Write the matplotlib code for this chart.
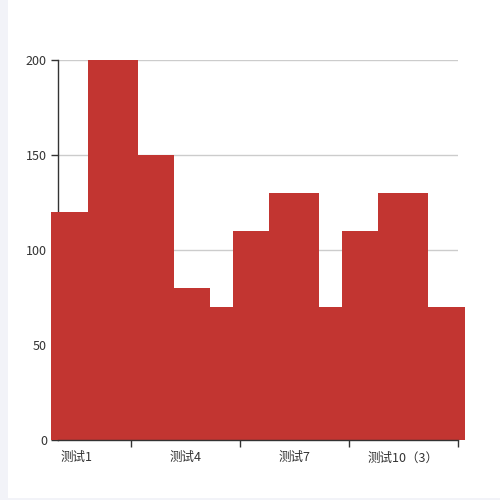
import matplotlib
matplotlib.use("Agg")
import matplotlib.pyplot as plt
from matplotlib.patches import Rectangle

plt.rcParams['font.family'] = ['Noto Sans CJK SC', 'DejaVu Sans']

# data
categories = ['测试1', '测试2', '测试3', '测试4', '测试5', '测试6',
              '测试7', '测试8', '测试9', '测试10（3）', '测试11']
values = [120, 200, 150, 80, 70, 110, 130, 70, 110, 130, 70]
shown_labels = [0, 3, 6, 9]
y_ticks = [0, 50, 100, 150, 200]

bar_color = '#c23531'
axis_color = '#333333'
grid_color = '#cccccc'

fig = plt.figure(figsize=(5, 5), dpi=100)
fig.patch.set_facecolor('white')

# page background strip on the left / bottom
fig.patches.append(Rectangle((0, 0), 8 / 500, 1, transform=fig.transFigure,
                             facecolor='#f2f3f8', edgecolor='none', zorder=0))
fig.patches.append(Rectangle((0, 0), 1, 2 / 500, transform=fig.transFigure,
                             facecolor='#f2f3f8', edgecolor='none', zorder=0))

ax = fig.add_axes([58 / 500, 60 / 500, 400 / 500, 380 / 500])

x = list(range(len(categories)))
# bars are 50px wide on a 400px / 11 category axis, so they overlap
bar_w = 50 / (400 / len(categories))
ax.bar(x, values, width=bar_w, color=bar_color, zorder=3, clip_on=False)

ax.set_xlim(-0.5, len(categories) - 0.5)
ax.set_ylim(0, 200)

# y axis
ax.set_yticks(y_ticks)
ax.set_yticklabels([str(v) for v in y_ticks], fontsize=9, color=axis_color)
ax.yaxis.grid(True, color=grid_color, linewidth=1, zorder=0)
ax.tick_params(axis='y', length=5, width=1, color=axis_color, pad=3)

# x axis: ticks between category groups, labels on every 3rd category
ax.set_xticks([1.5, 4.5, 7.5, 10.5])
ax.set_xticklabels([])
ax.tick_params(axis='x', length=5, width=1, color=axis_color)
for i in shown_labels:
    ax.text(i, -6, categories[i], ha='center', va='top', fontsize=9,
            color=axis_color)

for side in ['top', 'right']:
    ax.spines[side].set_visible(False)
for side in ['left', 'bottom']:
    ax.spines[side].set_color(axis_color)
    ax.spines[side].set_linewidth(1)
# the first bar hides the y axis line, the x axis line stays on top
ax.spines['left'].set_zorder(2)
ax.spines['bottom'].set_zorder(4)

fig.savefig('out.png', dpi=100)
